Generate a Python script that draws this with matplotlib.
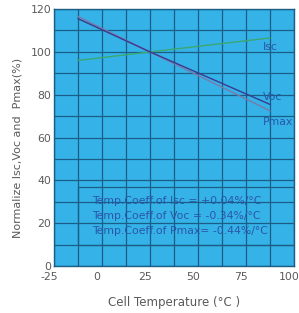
import matplotlib.pyplot as plt
import matplotlib.patches as patches
import matplotlib.transforms as mtransforms
import numpy as np

# data (normalized %, temperature in deg C)
temps = [-12.5, 25, 87.5]
isc = [96, 100, 106.5]
voc = [115.5, 100, 75.5]
pmax = [116.5, 100, 72.5]

coeff_lines = ["Temp.Coeff.of Isc = +0.04%/°C",
               "Temp.Coeff.of Voc = -0.34%/°C",
               "Temp.Coeff.of Pmax= -0.44%/°C"]

bg = '#35b3e8'
grid_c = '#1c5d86'
txt_c = '#2a56a8'
gray = '#5a5a5a'

plt.rcParams['font.family'] = ['DejaVu Sans']
plt.rcParams['axes.unicode_minus'] = False

fig = plt.figure(figsize=(2.99, 3.13), dpi=100)
ax = fig.add_axes([0.181, 0.150, 0.802, 0.821])
ax.set_facecolor(bg)

ax.set_xlim(-25, 100)
ax.set_ylim(0, 120)
ax.set_xticks(np.arange(-25, 101, 25))
ax.set_yticks(np.arange(0, 121, 20))
ax.set_xticks(np.arange(-25, 101, 12.5), minor=True)
ax.set_yticks(np.arange(0, 121, 10), minor=True)
ax.grid(True, which='both', color=grid_c, lw=0.9, zorder=0)
ax.tick_params(which='both', length=0, labelsize=7.8, labelcolor=gray)
ax.tick_params(axis='x', pad=4.5)
ax.tick_params(axis='y', pad=2)
for s in ax.spines.values():
    s.set_color(grid_c)
    s.set_linewidth(1.0)

# x tick labels sit a little left of their grid lines in the original
shift = mtransforms.ScaledTranslation(-3.5 / 72, 0, fig.dpi_scale_trans)
for lbl in ax.get_xticklabels():
    lbl.set_transform(lbl.get_transform() + shift)

# box behind the coefficient text hides the grid
ax.add_patch(patches.Rectangle((-12.5, 10), 112.5, 27, facecolor=bg,
                               edgecolor=grid_c, lw=0.9, zorder=1))

ax.plot(temps, isc, color='#3aa870', lw=1.0, zorder=3)
ax.plot(temps, pmax, color='#7a7aa8', lw=1.0, zorder=3)
ax.plot(temps, voc, color='#3a3a90', lw=1.0, zorder=3)

ax.text(84, 102.5, 'Isc', color=txt_c, fontsize=7.8, va='center', zorder=4)
ax.text(84, 78.8, 'Voc', color=txt_c, fontsize=7.8, va='center', zorder=4)
ax.text(84, 67.2, 'Pmax', color=txt_c, fontsize=7.8, va='center', zorder=4,
        clip_on=False)

for i, line in enumerate(coeff_lines):
    ax.text(-5, 30.5 - i * 7, line, color=txt_c, fontsize=7.8,
            va='center', zorder=4)

ax.set_xlabel('Cell Temperature (°C )', fontsize=8.5, color=gray, va='center')
ax.xaxis.set_label_coords(0.5, -0.143)
ax.set_ylabel('Normalize Isc,Voc and  Pmax(%)', fontsize=8, color=gray)
ax.yaxis.set_label_coords(-0.13, 0.46)

fig.savefig('out.png', dpi=100)
